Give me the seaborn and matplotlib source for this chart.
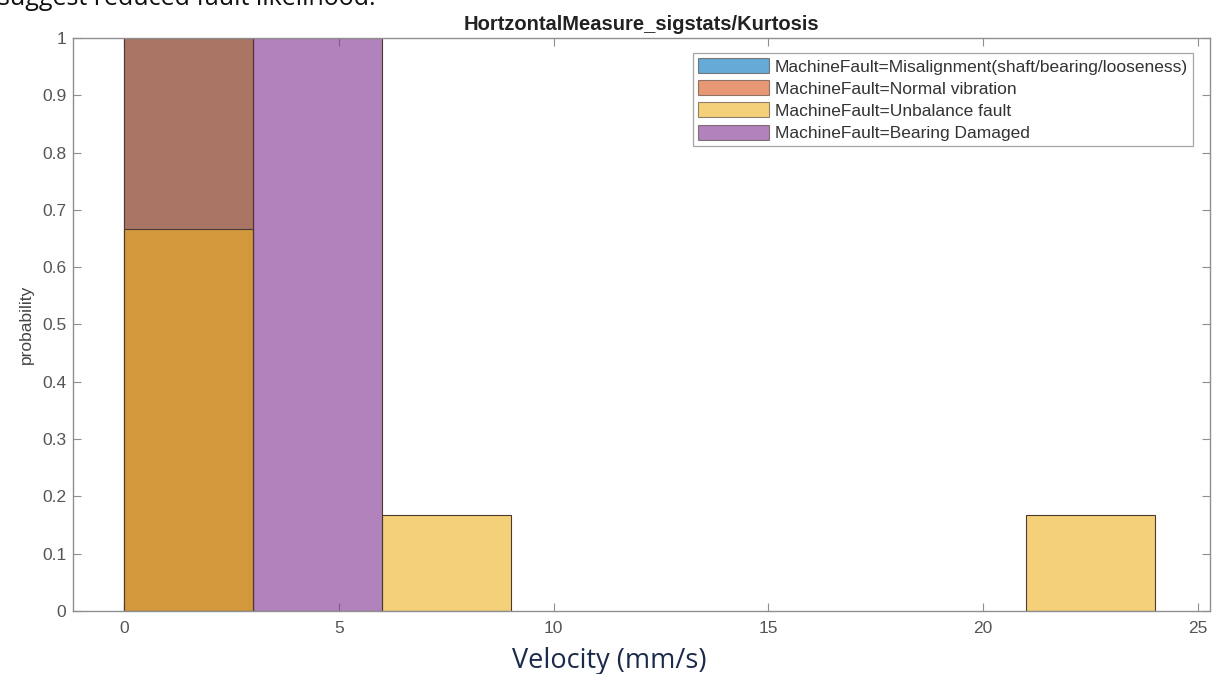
import numpy as np
import matplotlib
matplotlib.use("Agg")
import matplotlib.pyplot as plt
import seaborn as sns
from matplotlib.patches import Patch

# Histogram bins of the kurtosis feature (bin width 3)
bin_edges = [0, 3, 6, 9, 12, 15, 18, 21, 24]
bin_centers = [1.5, 4.5, 7.5, 10.5, 13.5, 16.5, 19.5, 22.5]

# Per-class probability in each bin
classes = [
    "MachineFault=Misalignment(shaft/bearing/looseness)",
    "MachineFault=Normal vibration",
    "MachineFault=Unbalance fault",
    "MachineFault=Bearing Damaged",
]
prob_misalignment = [1.0, 0, 0, 0, 0, 0, 0, 0]
prob_normal = [1.0, 0, 0, 0, 0, 0, 0, 0]
prob_unbalance = [0.6667, 0, 0.1667, 0, 0, 0, 0, 0.1667]
prob_bearing = [0, 1.0, 0, 0, 0, 0, 0, 0]
class_probs = [prob_misalignment, prob_normal, prob_unbalance, prob_bearing]

colors = ["#0072BD", "#D95319", "#EDB120", "#7E2F8E"]
face_alpha = 0.6

x_ticks = [0, 5, 10, 15, 20, 25]
y_ticks = [0, 0.1, 0.2, 0.3, 0.4, 0.5, 0.6, 0.7, 0.8, 0.9, 1]
y_tick_labels = ["0", "0.1", "0.2", "0.3", "0.4", "0.5", "0.6", "0.7", "0.8", "0.9", "1"]

sns.set_theme(style="white")
plt.rcParams["font.family"] = ["Liberation Sans", "DejaVu Sans"]

fig = plt.figure(figsize=(12.18, 6.74), dpi=100)
ax = fig.add_axes([0.060, 0.0935, 0.9334, 0.8501])

for probs, col in zip(class_probs, colors):
    sns.histplot(
        x=bin_centers, weights=probs, bins=bin_edges, stat="count",
        color=col, alpha=face_alpha, edgecolor="#4a3a30", linewidth=0.8,
        ax=ax,
    )

# drop empty-bin slivers so only populated bins show edges
for p in ax.patches:
    if p.get_height() <= 0:
        p.set_visible(False)

ax.set_xlim(-1.19, 25.28)
ax.set_ylim(0, 1)
ax.set_xticks(x_ticks)
ax.set_yticks(y_ticks)
ax.set_yticklabels(y_tick_labels)

axis_gray = "#8f8f8f"
label_gray = "#555555"
for s in ax.spines.values():
    s.set_visible(True)
    s.set_color(axis_gray)
    s.set_linewidth(1.0)
ax.tick_params(axis="both", which="both", direction="in", length=6, width=0.8,
               color=axis_gray, labelcolor=label_gray, labelsize=12.5,
               top=True, right=True, bottom=True, left=True)
ax.tick_params(axis="x", pad=7)
ax.tick_params(axis="y", pad=5)

ax.set_ylabel("probability", fontsize=12.5, color="#444444", labelpad=6)
ax.set_xlabel("Velocity (mm/s)", fontsize=19.5, color="#1b2a4a",
              family=["Open Sans", "DejaVu Sans"], fontweight="medium")
ax.xaxis.set_label_coords(0.472, -0.063)
ax.set_title("HortzontalMeasure_sigstats/Kurtosis", fontsize=14.5, fontweight="bold",
             color="#222222", pad=6)

handles = [Patch(facecolor=c, alpha=face_alpha, edgecolor="#4a3a30", linewidth=0.8)
           for c in colors]
leg = ax.legend(handles, classes, loc="upper right", bbox_to_anchor=(0.985, 0.974),
                fontsize=12.5, frameon=True, fancybox=False, handlelength=4.1,
                handleheight=0.95, handletextpad=0.3, labelspacing=0.33,
                borderpad=0.3, borderaxespad=0)
leg.get_frame().set_edgecolor(axis_gray)
leg.get_frame().set_linewidth(0.9)
for t in leg.get_texts():
    t.set_color("#333333")

# Tail of the preceding sentence, cut off at the top edge
fig.text(-0.002, 1 - 5 / 674, "suggest reduced fault likelihood.", fontsize=18,
         color="#111111", family=["Open Sans", "DejaVu Sans"], va="baseline", ha="left")

fig.savefig("out.png", dpi=100)
